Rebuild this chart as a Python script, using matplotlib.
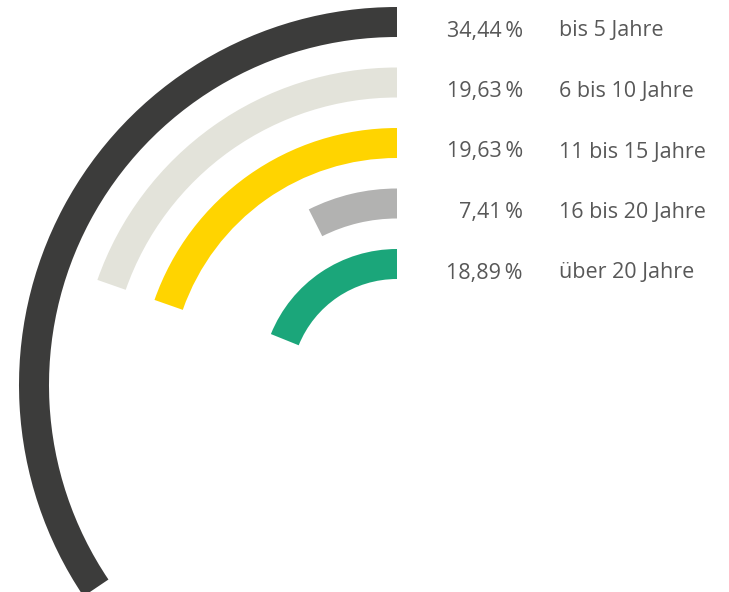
import matplotlib.pyplot as plt
from matplotlib.patches import Wedge

# data
labels = ['bis 5 Jahre', '6 bis 10 Jahre', '11 bis 15 Jahre', '16 bis 20 Jahre', 'über 20 Jahre']
values = [34.44, 19.63, 19.63, 7.41, 18.89]
colors = ['#3c3c3b', '#e3e3da', '#ffd400', '#b2b2b1', '#1ba67a']

# layout (data units = pixels, arc centre at origin)
R_OUTER = 363
STEP = 60.5
WIDTH = 30
TEXT_COLOR = '#585858'
FONT = ['Open Sans', 'DejaVu Sans']

fig = plt.figure(figsize=(7.29, 5.92), dpi=100)
ax = fig.add_axes([0, 0, 1, 1])
ax.set_xlim(-397, 332)
ax.set_ylim(-207, 385)
ax.set_aspect('equal')
ax.axis('off')

for i, (lab, v, c) in enumerate(zip(labels, values, colors)):
    r = R_OUTER - i * STEP
    # arc starts at 12 o'clock and runs counter-clockwise, 100 % = full circle
    ax.add_patch(Wedge((0, 0), r + WIDTH / 2, 90, 90 + v * 3.6,
                       width=WIDTH, facecolor=c, edgecolor='none'))
    pct = f"{v:.2f}".replace('.', ',') + '\u2009%'
    ty = r - 9
    ax.text(126, ty, pct, ha='right', va='center', fontsize=15.5,
            color=TEXT_COLOR, family=FONT)
    ax.text(162, ty, lab, ha='left', va='center', fontsize=15.5,
            color=TEXT_COLOR, family=FONT)

fig.savefig('out.png', dpi=100)
